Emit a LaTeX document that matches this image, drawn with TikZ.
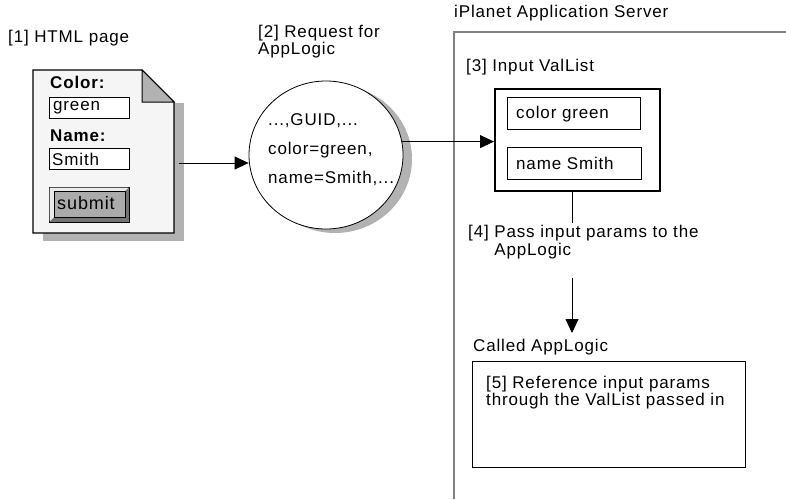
\documentclass[tikz,border=0pt]{standalone}
\usepackage{fontspec}
\setmainfont{Liberation Sans}[LetterSpace=5]
\usetikzlibrary{arrows.meta,shapes.geometric}

\begin{document}
\begin{tikzpicture}[x=1pt, y=-1pt,
        every node/.style={font=\fontsize{17}{18}\selectfont},
        lbl/.style={anchor=north west, inner sep=0pt, align=left},
        field/.style={draw, line width=1.2pt, minimum width=80pt, minimum height=21pt, inner sep=0pt, anchor=north west},
        valbox/.style={draw, line width=1.2pt, minimum width=133pt, minimum height=32pt, inner sep=0pt, anchor=north west},
        shade/.style={fill=black!30, draw=none},
        flow/.style={-{Triangle[length=14pt, width=13pt]}, line width=0.8pt}
    ]
        \useasboundingbox (0,0) rectangle (786,499);

        % HTML page
        \fill[black!30] (43,103) rectangle (184,241);
        \draw[line width=1.3pt, fill=black!4] (33,70) -- (142,70) -- (174,102) -- (174,233) -- (33,233) -- cycle;
        \draw[line width=1pt, fill=black!30] (142,70) -- (142,102) -- (174,102) -- cycle;
        \coordinate (pageE) at (179,163);
        \node[lbl] (htmllbl) at (8,30) {[1] HTML page};
        \node[lbl, font=\fontsize{17}{18}\selectfont\bfseries] (colorlbl) at (50,76) {Color:};
        \node[field, fill=white] (colorbox) at (49,97) {};
        \node[lbl, anchor=west] at ([xshift=4pt]colorbox.west) {green};
        \node[lbl, font=\fontsize{17}{18}\selectfont\bfseries] (namelbl) at (50,130) {Name:};
        \node[field, fill=white] (namebox) at (49,148) {};
        \node[lbl, anchor=west] at ([xshift=3pt]namebox.west) {Smith};
        % submit button
        \draw[line width=1pt, fill=black!55] (49,187) rectangle (129,222);
        \fill[black!8] (49.5,187.5) -- (128.5,187.5) -- (125,191) -- (54,191) -- (54,217) -- (49.5,221.5) -- cycle;
        \draw[line width=0.8pt, fill=black!33] (54,191) rectangle (125,217);
        \node[inner sep=0pt, font=\fontsize{18}{18}\selectfont] (submit) at (86,203) {submit};

        % request
        \node[lbl, font=\fontsize{17}{17}\selectfont] (reqlbl) at (258,25) {[2] Request for\\AppLogic};
        \node[ellipse, shade, minimum width=154pt, minimum height=148pt] at (335,159) {};
        \node[ellipse, draw, fill=white, line width=0.8pt, minimum width=154pt, minimum height=148pt] (msg) at (326,155) {};
        \node[lbl, font=\fontsize{17}{29}\selectfont] (msgtext) at (268,113) {...,GUID,...\\color=green,\\name=Smith,...};

        % server
        \draw[black!50, line width=1.2pt] (454,499) -- (454,32) -- (786,32);
        \node[lbl] (serverlbl) at (454,5) {iPlanet Application Server};
        \node[lbl] (vallbl) at (466,59) {[3] Input ValList};
        \node[draw, line width=1.6pt, minimum width=165pt, minimum height=102pt, inner sep=0pt, anchor=north west] (vallist) at (494,88) {};
        \node[valbox] (colorval) at (507,97) {};
        \node[lbl, anchor=west] at ([xshift=9pt]colorval.west) {color green};
        \node[valbox, minimum width=134pt] (nameval) at (507,147) {};
        \node[lbl, anchor=west] at ([xshift=9pt]nameval.west) {name Smith};
        \node[lbl] (passlbl) at (468,225) {[4] Pass input params to the\\\phantom{[4] }AppLogic};
        \node[lbl] (calledlbl) at (473,339) {Called AppLogic};
        \node[draw, line width=1pt, minimum width=273pt, minimum height=106pt, inner sep=0pt, anchor=north west] (called) at (472,361) {};
        \node[lbl, font=\fontsize{17}{17}\selectfont] (reflbl) at (486,376) {[5] Reference input params\\through the ValList passed in};

        % connectors
        \draw[flow] (pageE) -- (msg.west |- pageE);
        \draw[flow] (msg.10) -- (msg.10 -| vallist.west);
        \draw[line width=0.8pt] (572,190) -- (572,223);
        \draw[flow] (572,278) -- (572,333);
\end{tikzpicture}
\end{document}
